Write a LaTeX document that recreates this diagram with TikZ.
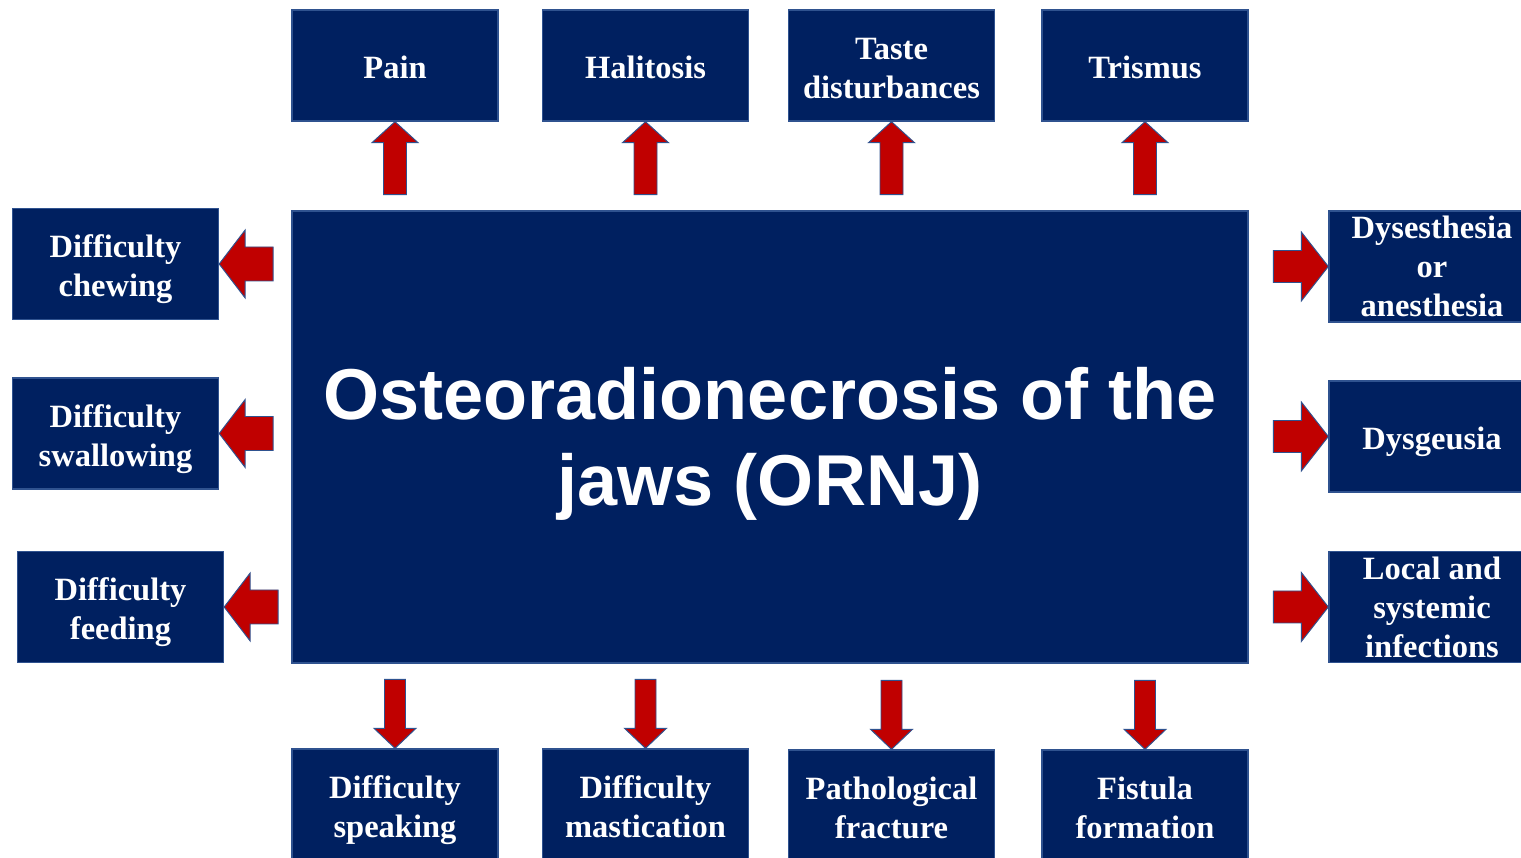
\documentclass[tikz,border=0pt]{standalone}
\usepackage{fontspec}
\setmainfont{Liberation Serif}
\newfontfamily\arialfont{Liberation Sans}
\usepackage{tikz}
\usetikzlibrary{positioning}
\definecolor{ornjblue}{HTML}{002060}
\definecolor{edgeblue}{HTML}{2F528F}
\definecolor{arrowred}{HTML}{C00000}
% struts that keep the text lines at the same height in every box
\newcommand\boxtop{\rule{0pt}{22pt}}
\newcommand\boxbot{\rule[-7pt]{0pt}{7pt}}
\tikzset{
  symptom/.style={draw=edgeblue,line width=0.8pt,fill=ornjblue,text=white,
    align=center,minimum width=4.12cm,minimum height=2.22cm,inner sep=0pt,
    font=\bfseries\fontsize{18.5}{22.2}\selectfont},
  core/.style={symptom,minimum width=19.12cm,minimum height=9.04cm,
    font=\arialfont\bfseries\fontsize{41}{49}\selectfont},
  redarrow/.style={draw=edgeblue,line width=0.55pt,fill=arrowred,line join=miter},
  pics/blockarrow/.style n args={4}{code={
    \draw[redarrow] (0,0) -- (-#2,#3) -- (-#2,#4) -- (-#1,#4)
      -- (-#1,-#4) -- (-#2,-#4) -- (-#2,-#3) -- cycle;
  }}
}
\begin{document}
\begin{tikzpicture}[x=0.02cm,y=0.02cm]
  \useasboundingbox (0,0) rectangle (1521,858);
  % Central box
  \node[core] (ornj) at (770,421) {\rule{0pt}{37.5pt}Osteoradionecrosis of the\\jaws (ORNJ)};
  % Top row
  \foreach \nm/\xx/\txt in {pain/395/Pain, halit/645.5/Halitosis,
      taste/891.5/{Taste\\disturbances}, trism/1145/Trismus} {
    \node[symptom] (\nm) at (\xx,792.5) {\boxtop\txt\boxbot};
    \pic[rotate=90] at (\nm.south) {blockarrow={73}{21}{23}{11.5}};
  }
  % Bottom row
  \foreach \nm/\xx/\yy/\txt in {speak/395/53.5/{Difficulty\\speaking},
      mastic/645.5/53.5/{Difficulty\\mastication},
      fract/891.5/52.5/{Pathological\\fracture},
      fistula/1145/52.5/{Fistula\\formation}} {
    \node[symptom] (\nm) at (\xx,\yy) {\boxtop\txt\boxbot};
    \pic[rotate=-90] at (\nm.north) {blockarrow={69}{20}{21}{10.5}};
  }
  % Left column
  \foreach \nm/\xx/\yy/\txt in {chew/115.5/594/{Difficulty\\chewing},
      swallow/115.5/424.5/{Difficulty\\swallowing},
      feed/120.5/251/{Difficulty\\feeding}} {
    \node[symptom] (\nm) at (\xx,\yy) {\boxtop\txt\boxbot};
    \pic[rotate=180] at (\nm.east) {blockarrow={54}{26}{34}{17}};
  }
  % Right column (three-line boxes need no struts)
  \foreach \nm/\yy/\txt in {dysest/591.5/{Dysesthesia\\or\\anesthesia},
      dysgeu/421.5/{\boxtop Dysgeusia\boxbot},
      infect/251/{Local and\\systemic\\infections}} {
    \node[symptom] (\nm) at (1432,\yy) {\txt};
    \pic at (\nm.west) {blockarrow={55}{27}{34.5}{16}};
  }
\end{tikzpicture}
\end{document}
